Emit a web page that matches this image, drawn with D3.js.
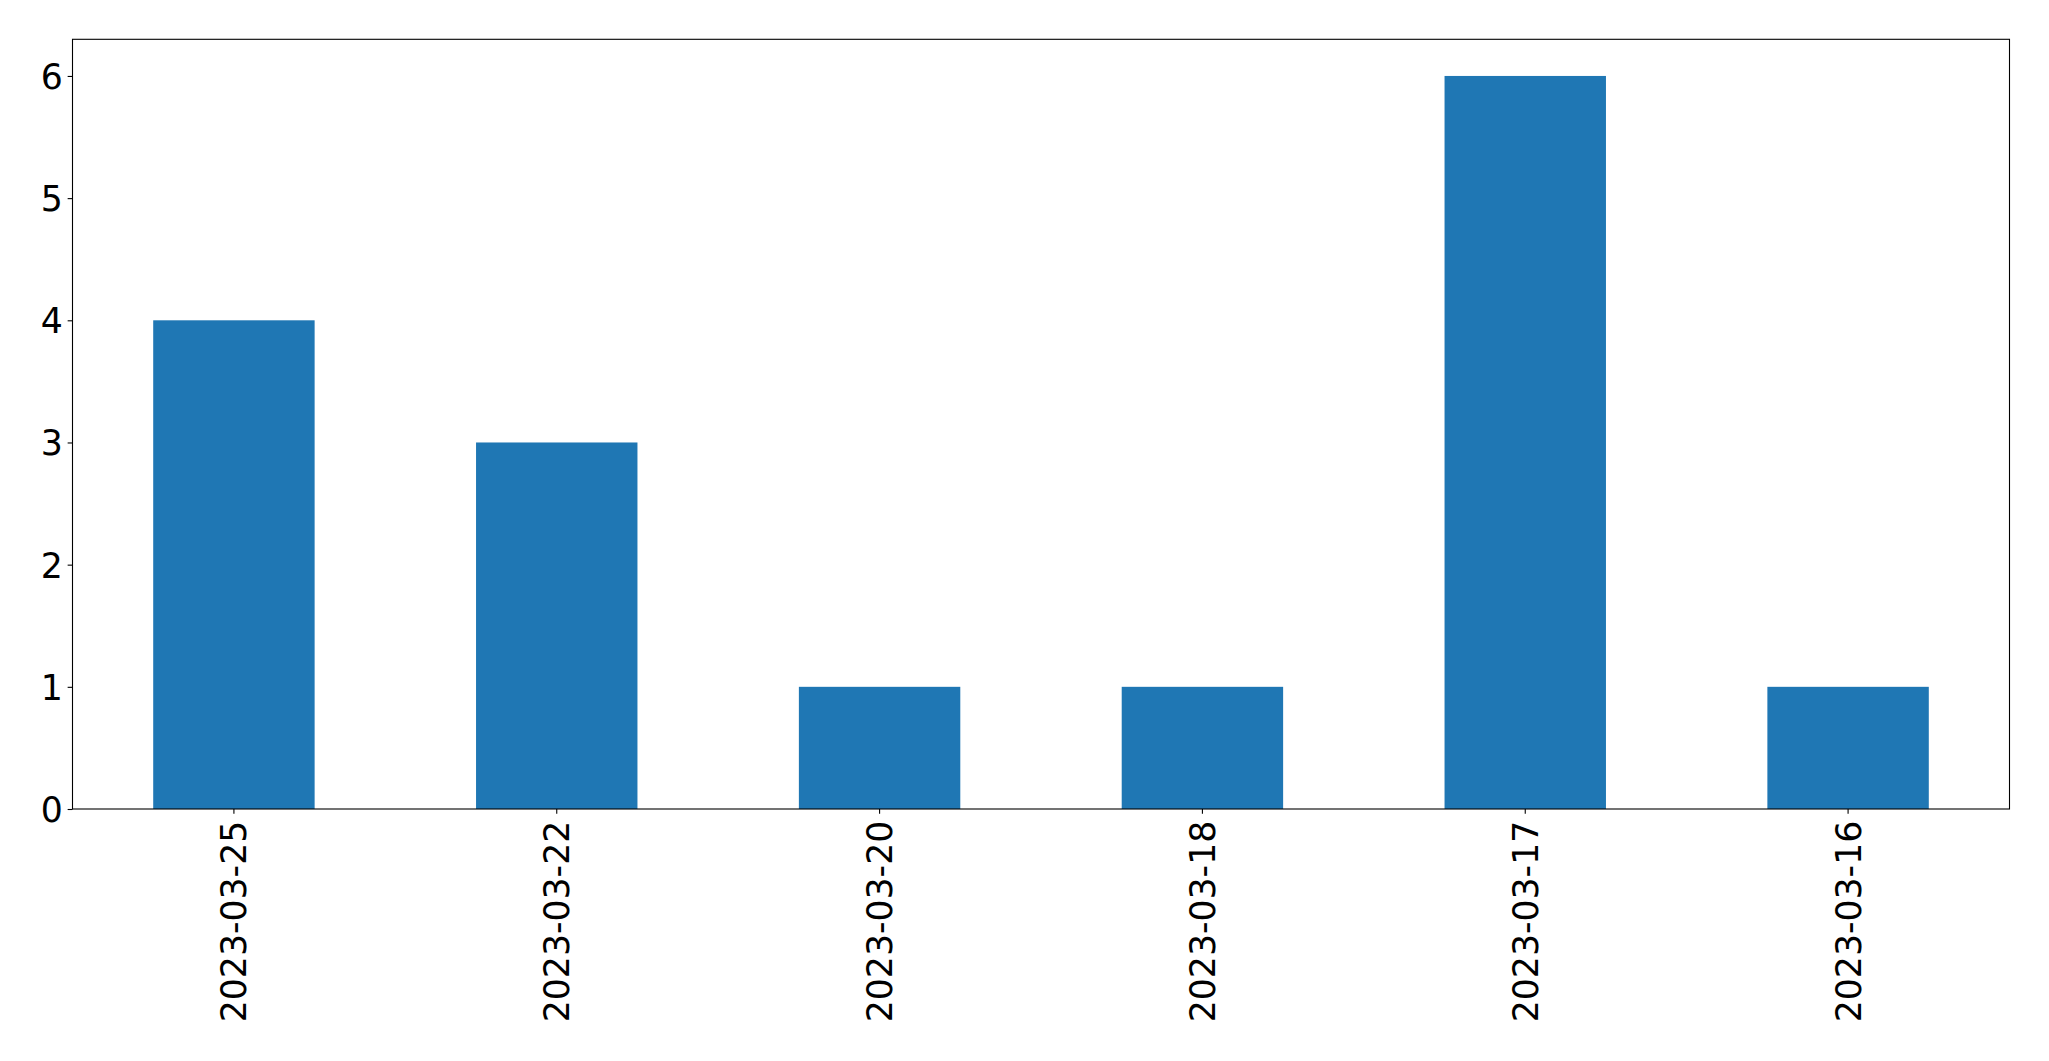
<!DOCTYPE html>
<html>
<head>
<meta charset="utf-8">
<script src="https://cdn.jsdelivr.net/npm/d3@7"></script>
<style>
  html, body { margin: 0; padding: 0; background: #fff; }
  svg { display: block; }
  text { font-family: "DejaVu Sans", sans-serif; fill: #000; }
</style>
</head>
<body>
<svg id="chart" width="2049" height="1061"></svg>
<script>
const categories = ["2023-03-25", "2023-03-22", "2023-03-20", "2023-03-18", "2023-03-17", "2023-03-16"];
const values = [4, 3, 1, 1, 6, 1];
const yTicks = [0, 1, 2, 3, 4, 5, 6];

const W = 2049, H = 1061;
const margin = { left: 72.5, right: W - 2009.5, top: 39.3, bottom: H - 809 };
const svg = d3.select("#chart");
const iw = W - margin.left - margin.right;
const ih = H - margin.top - margin.bottom;
const g = svg.append("g").attr("transform", `translate(${margin.left},${margin.top})`);

const x = d3.scaleBand().domain(categories).range([0, iw]).paddingInner(0.5).paddingOuter(0.25);
const y = d3.scaleLinear().domain([0, 6.3]).range([ih, 0]);

const fontSize = 34.7;
const tickLen = 4.86, pad = 4.86;

// bars
g.selectAll("rect.bar").data(values).enter().append("rect")
  .attr("class", "bar")
  .attr("x", (d, i) => x(categories[i]))
  .attr("y", d => y(d))
  .attr("width", x.bandwidth())
  .attr("height", d => ih - y(d))
  .attr("fill", "#1f77b4");

// y axis
const yAxis = d3.axisLeft(y).tickValues(yTicks).tickFormat(d3.format("d")).tickSize(tickLen).tickPadding(pad);
const ya = g.append("g").call(yAxis);
ya.select(".domain").remove();
ya.selectAll(".tick line").attr("stroke", "#000").attr("stroke-width", 1.1);
ya.selectAll(".tick text").style("font-size", fontSize + "px").attr("font-family", "DejaVu Sans").attr("dy", "0.36em");

// x axis
const xAxis = d3.axisBottom(x).tickSize(tickLen).tickPadding(pad);
const xa = g.append("g").attr("transform", `translate(0,${ih})`).call(xAxis);
xa.select(".domain").remove();
xa.selectAll(".tick line").attr("stroke", "#000").attr("stroke-width", 1.1);
xa.selectAll(".tick text")
  .style("font-size", fontSize + "px")
  .attr("font-family", "DejaVu Sans")
  .attr("text-anchor", "end")
  .attr("y", 0).attr("x", 0)
  .attr("dy", "0.36em")
  .attr("transform", `translate(0,${tickLen + pad + 2}) rotate(-90)`);

// frame
g.append("rect").attr("x", 0).attr("y", 0).attr("width", iw).attr("height", ih)
  .attr("fill", "none").attr("stroke", "#000").attr("stroke-width", 1.1);
</script>
</body>
</html>
